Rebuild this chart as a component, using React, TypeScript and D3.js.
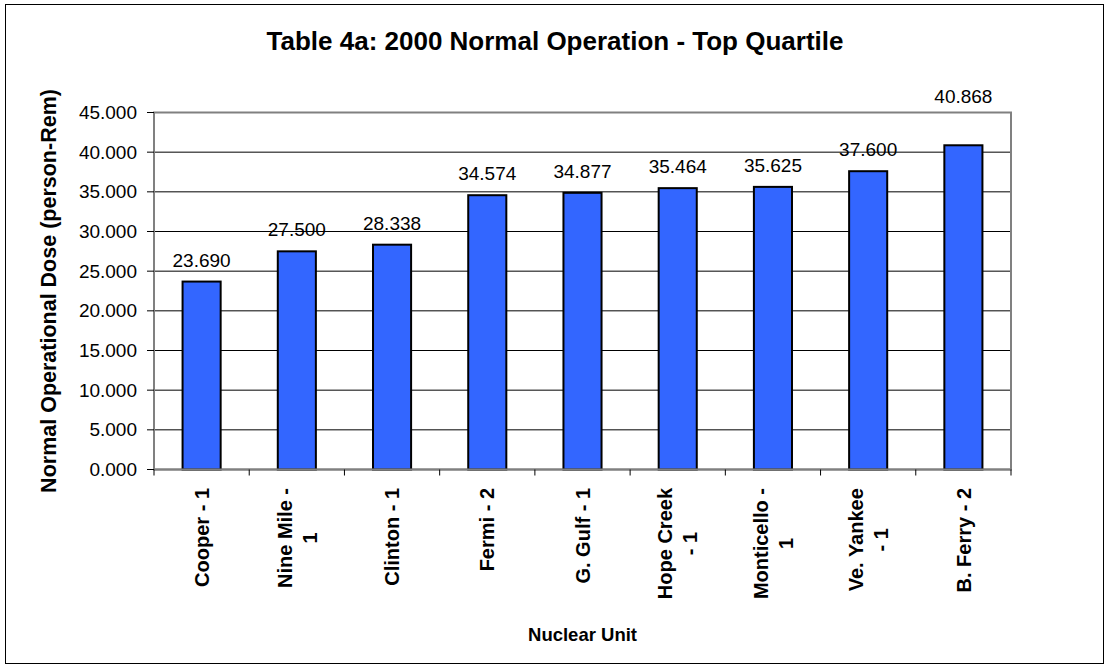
import React, { useMemo } from 'react';
import * as d3 from 'd3';

// reference data
const UNIT_LINES: string[][] = [
  ['Cooper - 1'],
  ['Nine Mile -', '1'],
  ['Clinton - 1'],
  ['Fermi - 2'],
  ['G. Gulf - 1'],
  ['Hope Creek', '- 1'],
  ['Monticello -', '1'],
  ['Ve. Yankee', '- 1'],
  ['B. Ferry - 2'],
];
const DOSE = [23.69, 27.5, 28.338, 34.574, 34.877, 35.464, 35.625, 37.6, 40.868];
const Y_TICKS = [0, 5, 10, 15, 20, 25, 30, 35, 40, 45];

const TITLE = 'Table 4a: 2000 Normal Operation - Top Quartile';
const Y_TITLE = 'Normal Operational Dose (person-Rem)';
const X_TITLE = 'Nuclear Unit';

const W = 1107;
const H = 671;
const FONT = '"Liberation Sans", Arial, Helvetica, sans-serif';
const BAR_FILL = '#3366ff';
const GRID = '#000000';
const FRAME_GREY = '#808080';

const M = { left: 154, right: 1011, top: 112.5, bottom: 469.5 };
const CAT_SIZE = 20;
const CAT_LINE = 25;
const NUM_SIZE = 19;

let ctx: CanvasRenderingContext2D | null = null;
function textWidth(s: string, font: string) {
  if (!ctx) ctx = document.createElement('canvas').getContext('2d');
  if (!ctx) return s.length * 10;
  ctx.font = font;
  return ctx.measureText(s).width;
}

export default function App() {
  const keys = UNIT_LINES.map((l) => l.join(' '));

  const band = useMemo(() => d3.scaleBand<string>().domain(keys).range([M.left, M.right]), []);
  const x = useMemo(
    () => d3.scaleBand<string>().domain(keys).range([M.left, M.right]).paddingInner(0.6).paddingOuter(0.3),
    [],
  );
  const y = useMemo(() => d3.scaleLinear().domain([0, 45]).range([M.bottom, M.top]), []);

  const fmt = d3.format('.3f');
  const catFont = `bold ${CAT_SIZE}px ${FONT}`;

  // label sits above the bar; if it would touch the plot's top border it goes above the border
  const labelY = (v: number) => {
    const base = y(v) - 15;
    return base - 13 < M.top + 10 ? M.top - 10 : base;
  };

  return (
    <div style={{ position: 'absolute', left: 0, top: 0 }}>
      <svg width={W} height={H} style={{ display: 'block', background: '#fff' }}>
        <rect x={5.5} y={4.5} width={1098} height={659} fill="#fff" stroke="#000" strokeWidth={1} />

        <text x={555} y={50} textAnchor="middle" fontFamily={FONT} fontWeight="bold" fontSize={26}>
          {TITLE}
        </text>

        {/* gridlines */}
        {Y_TICKS.map((t) => (
          <line key={t} x1={M.left} x2={M.right} y1={y(t)} y2={y(t)} stroke={GRID} strokeWidth={1} />
        ))}
        <rect
          x={M.left}
          y={M.top}
          width={M.right - M.left}
          height={M.bottom - M.top}
          fill="none"
          stroke={FRAME_GREY}
          strokeWidth={2}
        />

        {/* bars */}
        {DOSE.map((v, i) => (
          <rect
            key={keys[i]}
            x={x(keys[i])}
            y={y(v)}
            width={x.bandwidth()}
            height={y(0) - y(v)}
            fill={BAR_FILL}
            stroke="#000"
            strokeWidth={2}
          />
        ))}

        {/* value labels */}
        {DOSE.map((v, i) => (
          <text
            key={keys[i]}
            x={(band(keys[i]) as number) + band.bandwidth() / 2}
            y={labelY(v)}
            textAnchor="middle"
            fontFamily={FONT}
            fontSize={NUM_SIZE}
          >
            {fmt(v)}
          </text>
        ))}

        {/* y axis */}
        <line x1={M.left} x2={M.left} y1={M.top} y2={M.bottom} stroke={FRAME_GREY} strokeWidth={2} />
        {Y_TICKS.map((t) => (
          <g key={t}>
            <line x1={M.left - 7} x2={M.left} y1={y(t)} y2={y(t)} stroke="#000" />
            <text
              x={M.left - 17}
              y={y(t)}
              dy="0.35em"
              textAnchor="end"
              fontFamily={FONT}
              fontSize={NUM_SIZE}
            >
              {fmt(t)}
            </text>
          </g>
        ))}

        {/* x axis */}
        <line x1={M.left} x2={M.right} y1={M.bottom} y2={M.bottom} stroke={FRAME_GREY} strokeWidth={2} />
        {[...keys.map((k) => band(k) as number), M.right].map((bx, i) => (
          <line key={i} x1={bx} x2={bx} y1={M.bottom} y2={M.bottom + 6} stroke="#000" />
        ))}
        {UNIT_LINES.map((lines, i) => {
          const cx = (band(keys[i]) as number) + band.bandwidth() / 2;
          const maxW = Math.max(...lines.map((l) => textWidth(l, catFont)));
          const top = 488;
          return (
            <g key={keys[i]} transform={`translate(${cx},${top}) rotate(-90)`}>
              {lines.map((l, j) => (
                <text
                  key={j}
                  x={-maxW / 2}
                  y={(j - (lines.length - 1) / 2) * CAT_LINE + CAT_SIZE * 0.36}
                  textAnchor="middle"
                  fontFamily={FONT}
                  fontWeight="bold"
                  fontSize={CAT_SIZE}
                >
                  {l}
                </text>
              ))}
            </g>
          );
        })}

        {/* axis titles */}
        <text
          transform={`translate(56,${(M.top + M.bottom) / 2}) rotate(-90)`}
          textAnchor="middle"
          fontFamily={FONT}
          fontWeight="bold"
          fontSize={21.5}
        >
          {Y_TITLE}
        </text>
        <text
          x={(M.left + M.right) / 2}
          y={641}
          textAnchor="middle"
          fontFamily={FONT}
          fontWeight="bold"
          fontSize={18.5}
        >
          {X_TITLE}
        </text>
      </svg>
    </div>
  );
}
